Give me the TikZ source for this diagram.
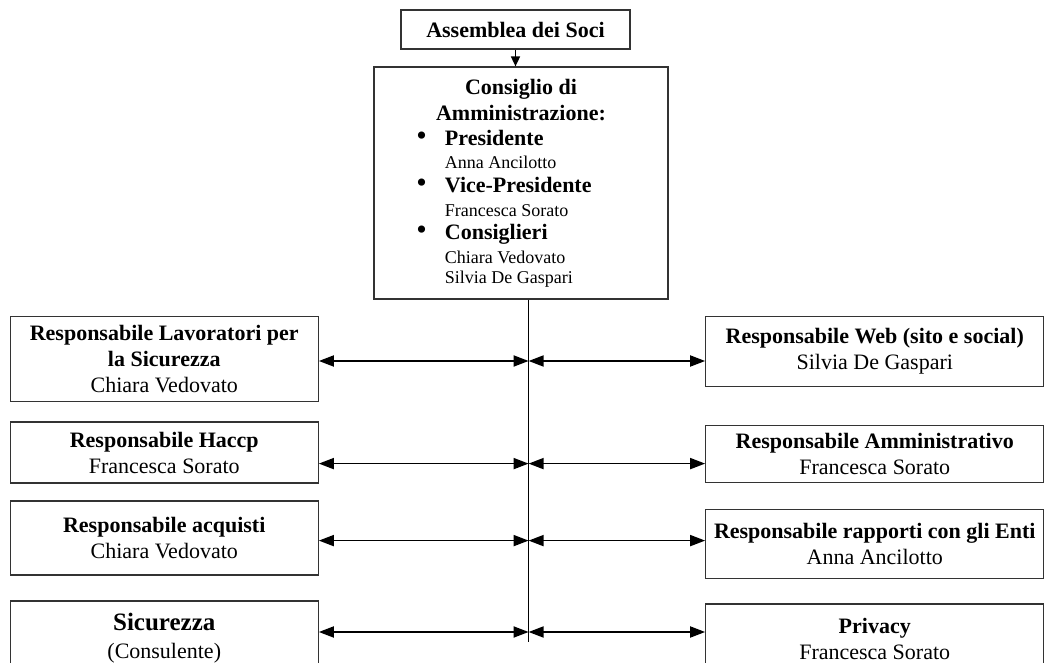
\documentclass[tikz,border=0pt]{standalone}
\usepackage{fontspec}
\setmainfont{Liberation Serif}
\usepackage{tikz}
\usetikzlibrary{arrows.meta}
\colorlet{boxline}{black!80}
\newcommand\nome[1]{{\fontsize{9}{11}\selectfont #1}}
\newcommand\punto{{\fontsize{15}{11}\selectfont\textbullet}}
\tikzstyle{orghead}=[>/.tip={Triangle[length=7.5pt,width=5.5pt]}]
\tikzstyle{ufficio}=[draw=boxline,line width=.6pt,align=center,inner sep=2pt,font=\fontsize{11}{13}\selectfont]
\tikzstyle{lbox}=[ufficio,minimum width=154pt]
\tikzstyle{rbox}=[ufficio,minimum width=169pt]
\tikzstyle{lnk}=[line width=.9pt,orghead,<->]

\begin{document}
\begin{tikzpicture}[x=.5pt,y=-.5pt]
	\useasboundingbox (0,0) rectangle (1046,663);
	\clip (0,0) rectangle (1046,663);
	\node[ufficio,minimum width=114.5pt,minimum height=19.5pt] (ads) at (515.5,29.5) {\textbf{Assemblea dei Soci}};
	\node[ufficio,minimum width=147pt,minimum height=116pt] (cda) at (521,183) {%
	  \textbf{Consiglio di}\\ \textbf{Amministrazione:}\\[3pt]
	  \hspace*{-17pt}\renewcommand\arraystretch{.91}\begin{tabular}{@{}l@{\hspace{9pt}}l@{}}
	  \punto & \textbf{Presidente}\\
	   & \nome{Anna Ancilotto}\\
	  \punto & \textbf{Vice-Presidente}\\
	   & \nome{Francesca Sorato}\\
	  \punto & \textbf{Consiglieri}\\
	   & \nome{Chiara Vedovato}\\[-1.5pt]
	   & \nome{Silvia De Gaspari}
	  \end{tabular}\\[-3pt]};
	\draw[line width=.8pt,>={Triangle[length=5pt,width=4.5pt]},->] (ads.south) -- (ads.south |- cda.north);

	\node[lbox,minimum height=42.75pt] (lrls)   at (164.25,359) {\textbf{Responsabile Lavoratori per}\\ \textbf{la Sicurezza}\\ Chiara Vedovato};
	\node[lbox,minimum height=30.5pt]  (lhaccp) at (164.25,452.5) {\textbf{Responsabile Haccp}\\ Francesca Sorato};
	\node[lbox,minimum height=37pt]    (lacq)   at (164.25,538) {\textbf{Responsabile acquisti}\\ Chiara Vedovato};
	\node[lbox,minimum height=37pt]    (lsic)   at (164.25,638) {{\fontsize{12.5}{14}\selectfont\textbf{Sicurezza}}\\[1pt] (Consulente)};

	\node[rbox,minimum height=34.85pt] (rweb)  at (874.75,351.7) {\textbf{Responsabile Web (sito e social)}\\ Silvia De Gaspari};
	\node[rbox,minimum height=28.5pt]  (ramm)  at (874.75,454.3) {\textbf{Responsabile Amministrativo}\\ Francesca Sorato};
	\node[rbox,minimum height=34.5pt]  (renti) at (874.75,544) {\textbf{Responsabile rapporti con gli Enti}\\ Anna Ancilotto};
	\node[rbox,minimum height=35pt]    (rpriv) at (874.75,639) {\textbf{Privacy}\\ Francesca Sorato};

	\coordinate (sptop) at ([xshift=3.8pt]cda.south);
	\coordinate (spbot) at (528.6,642);
	\draw[line width=.6pt] (sptop) -- (spbot);
	\coordinate (r1) at (528.6,361);
	\coordinate (r2) at (528.6,463.6);
	\coordinate (r3) at (528.6,540.6);
	\coordinate (r4) at (528.6,632);
	\draw[lnk] (r1 -| lrls.east) -- (r1);
	\draw[lnk] (r1) -- (r1 -| rweb.west);
	\draw[lnk] (r2 -| lhaccp.east) -- (r2);
	\draw[lnk] (r2) -- (r2 -| ramm.west);
	\draw[lnk] (r3 -| lacq.east) -- (r3);
	\draw[lnk] (r3) -- (r3 -| renti.west);
	\draw[lnk] (r4 -| lsic.east) -- (r4);
	\draw[lnk] (r4) -- (r4 -| rpriv.west);
\end{tikzpicture}
\end{document}
